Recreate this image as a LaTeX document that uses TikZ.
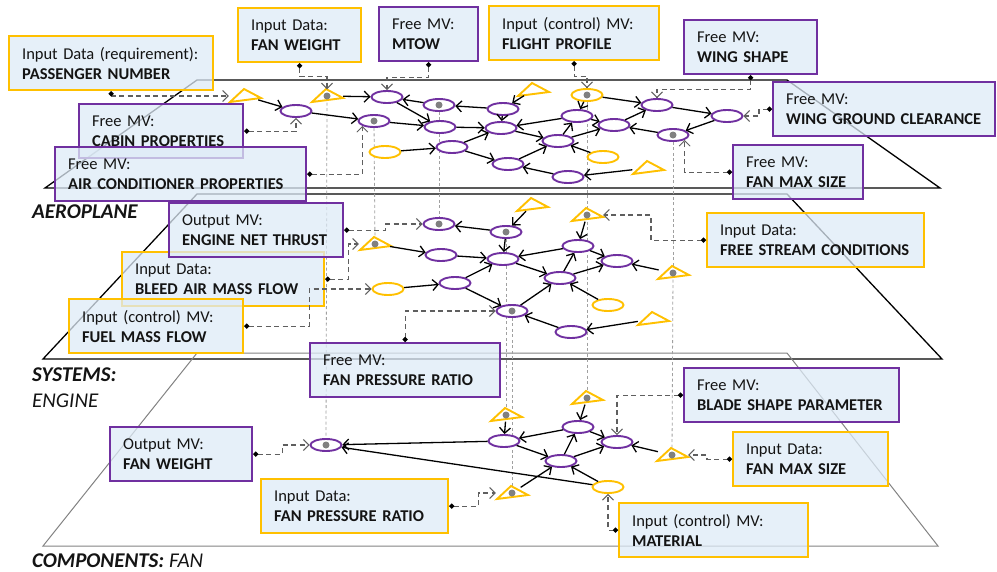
\documentclass[tikz,border=0pt]{standalone}
\usepackage{fontspec}
\setmainfont{Carlito}
\usetikzlibrary{arrows.meta,shapes.geometric,calc}
\definecolor{pur}{RGB}{112,48,160}
\definecolor{ylw}{RGB}{255,192,0}
\definecolor{bfill}{RGB}{222,235,247}
\definecolor{dgray}{RGB}{95,95,95}
\definecolor{vgray}{RGB}{160,160,160}
\definecolor{cgray}{RGB}{130,130,130}
\definecolor{txt}{RGB}{20,20,20}
\pgfdeclarelayer{bg}
\pgfsetlayers{bg,main}
\newcommand{\tnode}[3]{%
  \filldraw[tri] (#2-15,#3+6) -- (#2-1,#3-7) -- (#2+16,#3+2) -- cycle;
  \node[trihit] (#1) at (#2,#3) {};}
\newcommand{\bx}[2]{\mbox{#1}\\\mbox{\bfseries #2}}
\begin{document}
\begin{tikzpicture}[x=1pt,y=-1pt,
  pe/.style={ellipse, draw=pur, line width=1.9pt, fill=white, minimum width=31pt, minimum height=12pt, inner sep=0pt},
  ye/.style={pe, draw=ylw},
  trihit/.style={ellipse, minimum width=32pt, minimum height=13pt, inner sep=0pt},
  tri/.style={draw=ylw, line width=1.9pt, fill=white, line join=miter},
  dotc/.style={circle, fill=gray, inner sep=0pt, minimum size=7pt},
  edge/.style={line width=1.3pt, arrows={-Straight Barb[length=5.5pt,width=11pt]}},
  link/.style={dgray, line width=1.2pt, dash pattern=on 5pt off 3.5pt, arrows={Circle[length=5pt,color=black]-Straight Barb[length=5.5pt,width=11pt,line width=1pt]}},
  vline/.style={vgray, line width=0.8pt, dash pattern=on 3pt off 2.5pt},
  box/.style={draw, line width=2.2pt, fill=bfill, fill opacity=0.75, text opacity=1, text=txt, inner xsep=13pt, inner ysep=0pt, minimum height=54pt, align=left, anchor=north west, font=\fontsize{16.5}{20}\selectfont},
  pbox/.style={box, draw=pur},
  ybox/.style={box, draw=ylw},
  plane/.style={line width=1.3pt, line join=miter},
  lbl/.style={anchor=base west, inner sep=0pt, text=txt, font=\fontsize{21}{24}\selectfont\bfseries\itshape}
]
\useasboundingbox (0,0) rectangle (997,571);

% ---------- planes ----------
\begin{pgfonlayer}{bg}
\draw[plane] (197,80) -- (787,80) -- (940,188) -- (45,188) -- cycle;
\draw[plane] (197,194) -- (787,194) -- (942,359) -- (43,359) -- cycle;
\draw[plane, cgray, line width=1pt] (197,353) -- (787,353) -- (938,546) -- (43,546) -- cycle;
\end{pgfonlayer}

\node[lbl] (la) at (32,218) {AEROPLANE};
\node[lbl] (ls) at (32,381) {SYSTEMS:};
\node[lbl, font=\fontsize{21}{24}\selectfont\itshape] (le) at (32,407) {ENGINE};
\node[lbl] (lc) at (32,567) {COMPONENTS: \mdseries FAN};

% ---------- aeroplane nodes ----------
\tnode{t1}{245}{96}
\tnode{t2}{327}{96}
\tnode{t3}{533}{90}
\tnode{t4}{648}{168}
\node[pe] (e1) at (296,111) {};
\node[pe] (e2) at (374,121) {};
\node[pe] (e3) at (387,97) {};
\node[pe] (e4) at (439,105) {};
\node[pe] (e5) at (440,127) {};
\node[ye] (y1) at (385,152) {};
\node[pe] (e6) at (452,147) {};
\node[pe] (e7) at (503,109) {};
\node[pe] (e8) at (501,128) {};
\node[pe] (e9) at (508,164) {};
\node[pe] (e10) at (577,116) {};
\node[ye] (y2) at (587,95) {};
\node[pe] (e11) at (558,141) {};
\node[pe] (e12) at (614,125) {};
\node[ye] (y3) at (603,157) {};
\node[pe] (e13) at (568,177) {};
\node[pe] (e14) at (657,105) {};
\node[pe] (e15) at (673,135) {};
\node[pe] (e16) at (727,116) {};

% ---------- systems nodes ----------
\tnode{st1}{375}{244}
\tnode{st2}{532}{205}
\tnode{st3}{587}{215}
\tnode{st4}{673}{273}
\tnode{st5}{653}{319}
\node[pe] (s1) at (439,224) {};
\node[pe] (s2) at (441,255) {};
\node[ye] (sy1) at (388,289) {};
\node[pe] (s3) at (455,283) {};
\node[pe] (s4) at (506,232) {};
\node[pe] (s5) at (503,259) {};
\node[pe] (s6) at (512,311) {};
\node[pe] (s7) at (578,246) {};
\node[pe] (s8) at (560,278) {};
\node[pe] (s9) at (617,261) {};
\node[ye] (sy2) at (608,305) {};
\node[pe] (s10) at (571,332) {};

% ---------- component nodes ----------
\tnode{ct1}{506}{415}
\tnode{ct2}{587}{398}
\tnode{ct3}{672}{455}
\tnode{ct4}{512}{493}
\node[pe] (c1) at (326,445) {};
\node[pe] (c2) at (504,441) {};
\node[pe] (c3) at (578,427) {};
\node[pe] (c4) at (561,461) {};
\node[pe] (c5) at (617,442) {};
\node[ye] (cy1) at (608,487) {};

% ---------- vertical links between levels ----------
\begin{pgfonlayer}{bg}
\draw[vline] (t2) -- (c1);
\draw[vline] (e2) -- (st1);
\draw[vline] (e4) -- (s1);
\draw[vline] (y2) -- (st3);
\draw[vline] (st3) -- (ct2);
\draw[vline] (e15) -- (st4);
\draw[vline] (st4) -- (ct3);
\draw[vline] (s4) -- (ct1);
\draw[vline] (s6) -- (ct4);
\end{pgfonlayer}

% ---------- dots ----------
\foreach \n in {t2,e2,e4,y2,e15,s1,st1,s4,st3,st4,s6,c1,ct1,ct2,ct3,ct4}
  \node[dotc] (\n d) at (\n) {};

% ---------- aeroplane edges ----------
\foreach \a/\b in {t1/e1, e1/e2, t2/e3, e4/e3, e3/e5, e2/e5, y1/e6, e5/e8, e6/e8, e6/e9,
  e7/e4, t3/e7, e7/e8, e10/e8, e8/e11, e11/e10, y2/e10, y2/e14, e10/e12, e11/e12,
  e12/e14, e15/e12, e14/e16, e16/e15, y3/e11, e9/e11, e13/e9, t4/e13}
  \draw[edge] (\a) -- (\b);

% ---------- systems edges ----------
\foreach \a/\b in {st1/s2, s4/s1, s4/s5, s2/s5, sy1/s3, s3/s5, s3/s6, st2/s4, s7/s5, s5/s8,
  s8/s7, st3/s7, s7/s9, s8/s9, st4/s9, sy2/s8, s6/s8, s10/s6, st5/s10}
  \draw[edge] (\a) -- (\b);

% ---------- component edges ----------
\foreach \a/\b in {c2/c1, cy1/c1, ct1/c2, c3/c2, c2/c4, c4/c3, ct2/c3, c3/c5, c4/c5, ct3/c5, cy1/c4, ct4/c4}
  \draw[edge] (\a) -- (\b);

% ---------- boxes ----------
\node[ybox, text width=178pt] (pn) at (8,35) {\bx{Input Data (requirement):}{PASSENGER NUMBER}};
\node[ybox, text width=97pt] (fw) at (237,7) {\bx{Input Data:}{FAN WEIGHT}};
\node[pbox, text width=73pt] (mt) at (378,6) {\bx{Free MV:}{MTOW}};
\node[ybox, text width=144pt] (fp) at (488,5) {\bx{Input (control) MV:}{FLIGHT PROFILE}};
\node[pbox, text width=107pt] (ws) at (683,19) {\bx{Free MV:}{WING SHAPE}};
\node[pbox, text width=196pt] (wgc) at (772,81) {\bx{Free MV:}{WING GROUND CLEARANCE}};
\node[pbox, text width=104pt] (fms) at (732,144) {\bx{Free MV:}{FAN MAX SIZE}};
\node[pbox, text width=138pt] (cab) at (78,103) {\bx{Free MV:}{CABIN PROPERTIES}};
\node[pbox, text width=225pt] (acp) at (54,146) {\bx{Free MV:}{AIR CONDITIONER PROPERTIES}};
\node[ybox, text width=176pt] (bam) at (121,251) {\bx{Input Data:}{BLEED AIR MASS FLOW}};
\node[pbox, text width=148pt] (ent) at (168,202) {\bx{Output MV:}{ENGINE NET THRUST}};
\node[ybox, text width=148pt] (fmf) at (68,298) {\bx{Input (control) MV:}{FUEL MASS FLOW}};
\node[pbox, text width=164pt] (fprs) at (309,342) {\bx{Free MV:}{FAN PRESSURE RATIO}};
\node[ybox, text width=191pt] (fsc) at (706,212) {\bx{Input Data:}{FREE STREAM CONDITIONS}};
\node[pbox, text width=116pt] (fwo) at (109,426) {\bx{Output MV:}{FAN WEIGHT}};
\node[ybox, text width=161pt] (fpri) at (260,478) {\bx{Input Data:}{FAN PRESSURE RATIO}};
\node[pbox, text width=189pt] (bsp) at (683,367) {\bx{Free MV:}{BLADE SHAPE PARAMETER}};
\node[ybox, text width=129pt] (fmsi) at (732,431) {\bx{Input Data:}{FAN MAX SIZE}};
\node[ybox, text width=163pt] (mat) at (618,502) {\bx{Input (control) MV:}{MATERIAL}};

% ---------- dashed connectors ----------
\draw[link] (pn.south) |- (t1.west);
\draw[link] (fw.south) -- ++(0,13) -| (t2.north);
\draw[link] (mt.south) -- ++(0,15) -| (e3.north);
\draw[link] (fp.south) -- ++(0,15) -| (y2.north);
\draw[link] (ws.south) -- ++(0,14) -| (e14.north);
\draw[link] (wgc.west) -- ++(-13,0) |- (e16.east);
\draw[link] (fms.west) -| (e15.south east);
\draw[link] (cab.east) -| (e1.south);
\draw[link] (acp.east) -| (e2.south west);
\draw[link] (ent.east) -- ++(41,0) |- (s1.west);
\draw[link] (bam.east) -- ++(23,0) |- (st1.west);
\draw[link] (fmf.east) -- ++(65,0) |- (sy1.west);
\draw[link] (fprs.north) |- (s6.west);
\draw[link] (fsc.west) -- ++(-55,0) |- (st3.east);
\draw[link] (fwo.east) -- ++(29,0) |- (c1.west);
\draw[link] (fpri.east) -- ++(29,0) |- (ct4.west);
\draw[link] (bsp.west) -| (c5.north);
\draw[link] (fmsi.west) -- ++(-25,0) |- (ct3.east);
\draw[link] (mat.west) -| (cy1.south);
\end{tikzpicture}
\end{document}
